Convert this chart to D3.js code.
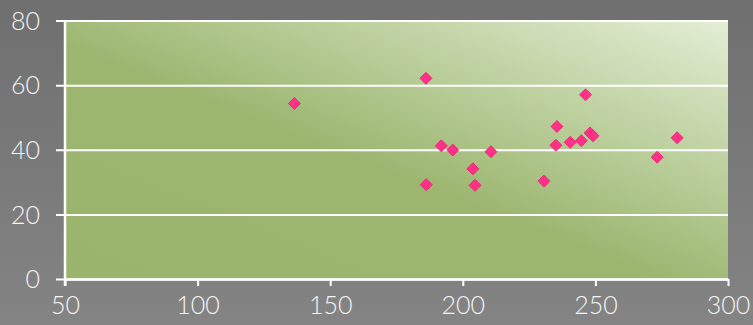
<!DOCTYPE html>
<html>
<head>
<meta charset="utf-8">
<script src="https://cdn.jsdelivr.net/npm/d3@7"></script>
<style>
  html, body { margin: 0; padding: 0; background: #707070; }
  svg { display: block; }
  text { font-family: Lato, "Open Sans", sans-serif; font-weight: 300; }
</style>
</head>
<body>
<svg id="chart" width="753" height="325"></svg>
<script>
// Scatter values
const xValues = [136.5, 186.1, 186.2, 191.9, 196.2, 210.6, 203.8, 204.6, 230.6, 235.1, 235.5, 240.5, 244.7, 246.3, 248.0, 249.1, 273.3, 280.8];
const yValues = [54.3, 62.1, 29.2, 41.2, 39.9, 39.4, 34.1, 29.0, 30.3, 41.4, 47.2, 42.3, 42.8, 57.0, 45.2, 44.3, 37.7, 43.7];
const xTicks = [50, 100, 150, 200, 250, 300];
const yTicks = [0, 20, 40, 60, 80];

const W = 753, H = 325;
const margin = { left: 65, right: 25, top: 20.5, bottom: 46 };

const svg = d3.select("#chart");
const defs = svg.append("defs");

const bg = defs.append("linearGradient").attr("id", "bgGrad")
  .attr("x1", 0).attr("y1", 0).attr("x2", 0).attr("y2", 1);
bg.append("stop").attr("offset", 0).attr("stop-color", "#6f6f6f");
bg.append("stop").attr("offset", 1).attr("stop-color", "#848484");

const plotGrad = defs.append("linearGradient").attr("id", "plotGrad")
  .attr("x1", 1).attr("y1", 0).attr("x2", 0).attr("y2", 1);
plotGrad.append("stop").attr("offset", 0).attr("stop-color", "#e3eed5");
plotGrad.append("stop").attr("offset", 0.55).attr("stop-color", "#9cb670");
plotGrad.append("stop").attr("offset", 1).attr("stop-color", "#9ab46d");

svg.append("rect").attr("width", W).attr("height", H).attr("fill", "url(#bgGrad)");

const x = d3.scaleLinear().domain([50, 300]).range([margin.left, W - margin.right]);
const y = d3.scaleLinear().domain([0, 80]).range([H - margin.bottom, margin.top]);

// plot area
svg.append("rect")
  .attr("x", x(50)).attr("y", y(80))
  .attr("width", x(300) - x(50)).attr("height", y(0) - y(80))
  .attr("fill", "url(#plotGrad)");

// horizontal gridlines with outside ticks on the left
const yAxis = d3.axisLeft(y).tickValues(yTicks)
  .tickSize(-(x(300) - x(50)) - 9).tickPadding(16).tickSizeOuter(0);
const gy = svg.append("g").attr("transform", `translate(${x(300)},0)`).call(yAxis);
gy.select(".domain").remove();
gy.selectAll(".tick line").attr("stroke", "#ffffff").attr("stroke-width", 2)
  .attr("x1", 0).attr("x2", -(x(300) - x(50)) - 9);
gy.selectAll(".tick text")
  .attr("x", -(x(300) - x(50)) - 25)
  .attr("fill", "#f4f4f4").attr("font-size", 25).attr("dy", "0.35em");

// bottom axis
const xAxis = d3.axisBottom(x).tickValues(xTicks).tickSize(7).tickPadding(10).tickSizeOuter(0);
const gx = svg.append("g").attr("transform", `translate(0,${y(0)})`).call(xAxis);
gx.select(".domain").attr("stroke", "#ffffff").attr("stroke-width", 2.5);
gx.selectAll(".tick line").attr("stroke", "#ffffff").attr("stroke-width", 2);
gx.selectAll(".tick text").attr("fill", "#f4f4f4").attr("font-size", 25);

// left axis line
svg.append("line")
  .attr("x1", x(50)).attr("x2", x(50))
  .attr("y1", y(80)).attr("y2", y(0) + 7)
  .attr("stroke", "#ffffff").attr("stroke-width", 2.5);

// diamond markers
const points = xValues.map((v, i) => ({ x: v, y: yValues[i] }));
const diamond = d3.symbol().type(d3.symbolSquare).size(72);
svg.append("g").selectAll("path").data(points).join("path")
  .attr("d", diamond)
  .attr("transform", d => `translate(${x(d.x)},${y(d.y)}) rotate(45)`)
  .attr("fill", "#ff3087")
  .attr("stroke", "#ec1f73").attr("stroke-width", 0.8);
</script>
</body>
</html>
